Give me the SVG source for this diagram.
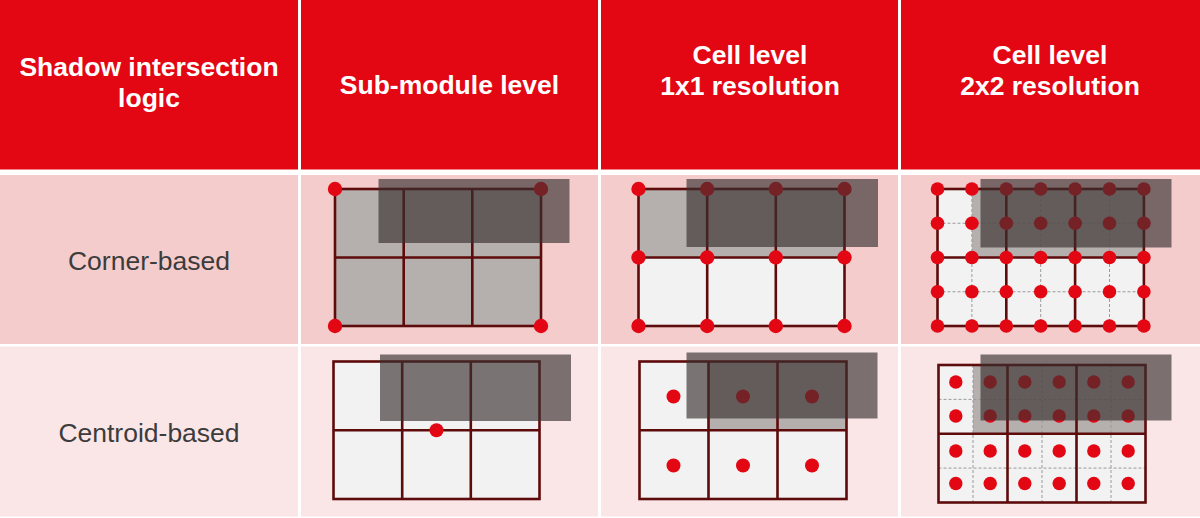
<svg xmlns="http://www.w3.org/2000/svg" width="1200" height="518" viewBox="0 0 1200 518">
<style>
.hd{fill:#e30613}
.r1{fill:#f4cccc}
.r2{fill:#fbe6e7}
.ht{font-family:"Liberation Sans",Arial,sans-serif;font-weight:bold;font-size:26.5px;fill:#ffffff;text-anchor:middle}
.rt{font-family:"Liberation Sans",Arial,sans-serif;font-size:26.5px;fill:#3c3c3c;text-anchor:middle}
.gy{fill:#b5b0ae}
.lt{fill:#f2f2f2}
.gl{fill:none;stroke:#5e0b0b;stroke-width:2.6}
.ds{fill:none;stroke:#9a9a9a;stroke-width:1;stroke-dasharray:3 2}
.dot{fill:#e30613}
.sh{fill:#3a3030;fill-opacity:0.66}
</style>
<rect x="0" y="0" width="1200" height="518" fill="#ffffff"/>
<g id="header">
<rect class="hd" x="0" y="0" width="298" height="169.5"/>
<rect class="hd" x="301" y="0" width="297" height="169.5"/>
<rect class="hd" x="601" y="0" width="297" height="169.5"/>
<rect class="hd" x="901" y="0" width="299" height="169.5"/>
<text class="ht" x="149" y="76">Shadow intersection</text>
<text class="ht" x="149" y="106.5">logic</text>
<text class="ht" x="449.5" y="94">Sub-module level</text>
<text class="ht" x="750" y="63.5">Cell level</text>
<text class="ht" x="750" y="95">1x1 resolution</text>
<text class="ht" x="1050" y="63.5">Cell level</text>
<text class="ht" x="1050" y="95">2x2 resolution</text>
</g>
<g id="row-bg">
<rect class="r1" x="0" y="175" width="298" height="169"/>
<rect class="r1" x="301" y="175" width="297" height="169"/>
<rect class="r1" x="601" y="175" width="297" height="169"/>
<rect class="r1" x="901" y="175" width="299" height="169"/>
<rect class="r2" x="0" y="346.5" width="298" height="170"/>
<rect class="r2" x="301" y="346.5" width="297" height="170"/>
<rect class="r2" x="601" y="346.5" width="297" height="170"/>
<rect class="r2" x="901" y="346.5" width="299" height="170"/>
</g>
<g id="label-corner"><text class="rt" x="149" y="269.5">Corner-based</text></g>
<g id="label-centroid"><text class="rt" x="149" y="441.5">Centroid-based</text></g>

<g id="corner-submodule">
<rect class="gy" x="335" y="189" width="206" height="137"/>
<rect class="gl" x="335" y="189" width="206" height="137"/>
<path class="gl" d="M403.7 189V326M472.3 189V326M335 257.5H541"/>
<circle class="dot" cx="335" cy="189" r="7.2"/>
<circle class="dot" cx="541" cy="189" r="7.2"/>
<circle class="dot" cx="335" cy="326" r="7.2"/>
<circle class="dot" cx="541" cy="326" r="7.2"/>
<rect class="sh" x="378.5" y="179" width="191" height="64"/>
</g>

<g id="corner-cell1x1">
<rect class="gy" x="638.5" y="189" width="206" height="68.5"/>
<rect class="lt" x="638.5" y="257.5" width="206" height="68.5"/>
<rect class="gl" x="638.5" y="189" width="206" height="137"/>
<path class="gl" d="M707.2 189V326M775.8 189V326M638.5 257.5H844.5"/>
<g class="dot">
<circle cx="638.5" cy="189" r="7.2"/><circle cx="707.2" cy="189" r="7.2"/><circle cx="775.8" cy="189" r="7.2"/><circle cx="844.5" cy="189" r="7.2"/>
<circle cx="638.5" cy="257.5" r="7.2"/><circle cx="707.2" cy="257.5" r="7.2"/><circle cx="775.8" cy="257.5" r="7.2"/><circle cx="844.5" cy="257.5" r="7.2"/>
<circle cx="638.5" cy="326" r="7.2"/><circle cx="707.2" cy="326" r="7.2"/><circle cx="775.8" cy="326" r="7.2"/><circle cx="844.5" cy="326" r="7.2"/>
</g>
<rect class="sh" x="686.5" y="179" width="191.5" height="68"/>
</g>

<g id="corner-cell2x2">
<rect class="lt" x="937.5" y="189" width="206.4" height="137"/>
<rect class="gy" x="971.9" y="189" width="172" height="68.5"/>
<path class="ds" d="M971.9 189V326M1040.7 189V326M1109.5 189V326M937.5 223.25H1143.9M937.5 291.75H1143.9"/>
<rect class="gl" x="937.5" y="189" width="206.4" height="137"/>
<path class="gl" d="M1006.3 189V326M1075.1 189V326M937.5 257.5H1143.9"/>
<g class="dot">
<circle cx="937.5" cy="189" r="6.8"/><circle cx="971.9" cy="189" r="6.8"/><circle cx="1006.3" cy="189" r="6.8"/><circle cx="1040.7" cy="189" r="6.8"/><circle cx="1075.1" cy="189" r="6.8"/><circle cx="1109.5" cy="189" r="6.8"/><circle cx="1143.9" cy="189" r="6.8"/>
<circle cx="937.5" cy="223.25" r="6.8"/><circle cx="971.9" cy="223.25" r="6.8"/><circle cx="1006.3" cy="223.25" r="6.8"/><circle cx="1040.7" cy="223.25" r="6.8"/><circle cx="1075.1" cy="223.25" r="6.8"/><circle cx="1109.5" cy="223.25" r="6.8"/><circle cx="1143.9" cy="223.25" r="6.8"/>
<circle cx="937.5" cy="257.5" r="6.8"/><circle cx="971.9" cy="257.5" r="6.8"/><circle cx="1006.3" cy="257.5" r="6.8"/><circle cx="1040.7" cy="257.5" r="6.8"/><circle cx="1075.1" cy="257.5" r="6.8"/><circle cx="1109.5" cy="257.5" r="6.8"/><circle cx="1143.9" cy="257.5" r="6.8"/>
<circle cx="937.5" cy="291.75" r="6.8"/><circle cx="971.9" cy="291.75" r="6.8"/><circle cx="1006.3" cy="291.75" r="6.8"/><circle cx="1040.7" cy="291.75" r="6.8"/><circle cx="1075.1" cy="291.75" r="6.8"/><circle cx="1109.5" cy="291.75" r="6.8"/><circle cx="1143.9" cy="291.75" r="6.8"/>
<circle cx="937.5" cy="326" r="6.8"/><circle cx="971.9" cy="326" r="6.8"/><circle cx="1006.3" cy="326" r="6.8"/><circle cx="1040.7" cy="326" r="6.8"/><circle cx="1075.1" cy="326" r="6.8"/><circle cx="1109.5" cy="326" r="6.8"/><circle cx="1143.9" cy="326" r="6.8"/>
</g>
<rect class="sh" x="980.5" y="179" width="191" height="68.5"/>
</g>

<g id="centroid-submodule">
<rect class="lt" x="333.5" y="361.5" width="206" height="137.5"/>
<rect class="gl" x="333.5" y="361.5" width="206" height="137.5"/>
<path class="gl" d="M402.2 361.5V499M470.8 361.5V499M333.5 430.25H539.5"/>
<circle class="dot" cx="436.5" cy="430.25" r="7"/>
<rect class="sh" x="380" y="354.5" width="191" height="66.5"/>
</g>

<g id="centroid-cell1x1">
<rect class="lt" x="639.5" y="361.5" width="207" height="137.5"/>
<rect class="gy" x="708.5" y="361.5" width="138" height="68.75"/>
<rect class="gl" x="639.5" y="361.5" width="207" height="137.5"/>
<path class="gl" d="M708.5 361.5V499M777.5 361.5V499M639.5 430.25H846.5"/>
<g class="dot">
<circle cx="673.5" cy="396.5" r="7"/><circle cx="743" cy="396.5" r="7"/><circle cx="812" cy="396.5" r="7"/>
<circle cx="673.5" cy="465.5" r="7"/><circle cx="743" cy="465.5" r="7"/><circle cx="812" cy="465.5" r="7"/>
</g>
<rect class="sh" x="686.5" y="352.5" width="191" height="66"/>
</g>

<g id="centroid-cell2x2">
<rect class="lt" x="938.5" y="365" width="207" height="137.5"/>
<rect class="gy" x="973" y="365" width="172.5" height="68.75"/>
<path class="ds" d="M973 365V502.5M1042 365V502.5M1111 365V502.5M938.5 399.4H1145.5M938.5 468.1H1145.5"/>
<rect class="gl" x="938.5" y="365" width="207" height="137.5"/>
<path class="gl" d="M1007.5 365V502.5M1076.5 365V502.5M938.5 433.75H1145.5"/>
<g class="dot">
<circle cx="955.8" cy="382" r="6.7"/><circle cx="990.2" cy="382" r="6.7"/><circle cx="1024.8" cy="382" r="6.7"/><circle cx="1059.2" cy="382" r="6.7"/><circle cx="1093.8" cy="382" r="6.7"/><circle cx="1128.2" cy="382" r="6.7"/>
<circle cx="955.8" cy="416" r="6.7"/><circle cx="990.2" cy="416" r="6.7"/><circle cx="1024.8" cy="416" r="6.7"/><circle cx="1059.2" cy="416" r="6.7"/><circle cx="1093.8" cy="416" r="6.7"/><circle cx="1128.2" cy="416" r="6.7"/>
<circle cx="955.8" cy="451" r="6.7"/><circle cx="990.2" cy="451" r="6.7"/><circle cx="1024.8" cy="451" r="6.7"/><circle cx="1059.2" cy="451" r="6.7"/><circle cx="1093.8" cy="451" r="6.7"/><circle cx="1128.2" cy="451" r="6.7"/>
<circle cx="955.8" cy="483.5" r="6.7"/><circle cx="990.2" cy="483.5" r="6.7"/><circle cx="1024.8" cy="483.5" r="6.7"/><circle cx="1059.2" cy="483.5" r="6.7"/><circle cx="1093.8" cy="483.5" r="6.7"/><circle cx="1128.2" cy="483.5" r="6.7"/>
</g>
<rect class="sh" x="980.5" y="354.5" width="191" height="66"/>
</g>
<g id="connectors"/>
</svg>
